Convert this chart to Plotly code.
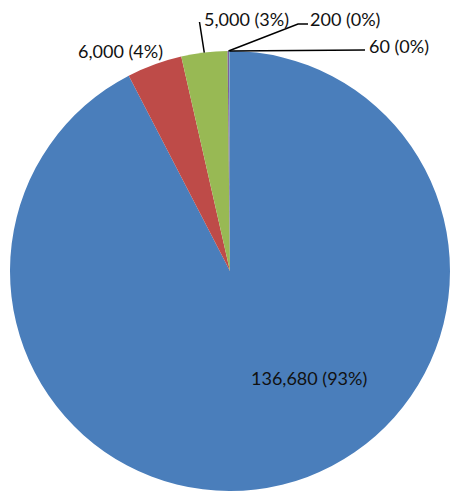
import math
import plotly.graph_objects as go

values = [136680, 6000, 5000, 200, 60]
labels = ["136,680 (93%)", "6,000 (4%)", "5,000 (3%)", "200 (0%)", "60 (0%)"]
colors = ["#4A7EBB", "#BE4B48", "#98B954", "#7D60A0", "#46AAC5"]

OFF = 8  # default page body margin
W, H = 452, 492
# desired pie centre / radius in screenshot pixels
SCX, SCY, SR = 230, 271, 220
ML = SCX - SR - OFF
MT = SCY - SR - OFF
PW = PH = 2 * SR
MR = W - ML - PW
MB = H - MT - PH
CX, CY, R = SCX, SCY, SR


def to_paper(px, py):
    # px, py in screenshot pixels
    fx, fy = px - OFF, py - OFF
    return (fx - ML) / PW, (MT + PH - fy) / PH


total = sum(values)
mids = []
cum = 0
for v in values:
    mids.append((cum + v / 2) / total * 2 * math.pi)
    cum += v


def edge(i):
    a = mids[i]
    return CX + R * math.sin(a), CY - R * math.cos(a)


fig = go.Figure(go.Pie(
    values=values,
    labels=labels,
    sort=False,
    direction="clockwise",
    rotation=0,
    textinfo="none",
    hoverinfo="label",
    marker=dict(colors=colors, line=dict(width=0)),
    showlegend=False,
))

# label text positions (screenshot pixels)
text_pos = [(309, 378), (120, 51), (246, 19), (345, 19), (399, 46)]
annotations = []
for lab, (tx, ty) in zip(labels, text_pos):
    x, y = to_paper(tx, ty)
    annotations.append(dict(x=x, y=y, xref="paper", yref="paper", text=lab,
                            showarrow=False, xanchor="center", yanchor="middle",
                            font=dict(family="Lato", size=18, color="#111111")))

# leader lines
shapes = []
leader_starts = {2: [(199.5, 22)], 3: [(308, 24), (298, 24)], 4: [(365, 50)]}
for i, pts in leader_starts.items():
    ex, ey = edge(i)
    path_pts = pts + [(ex, ey)]
    p = [to_paper(*q) for q in path_pts]
    d = "M " + " L ".join(f"{a:.5f},{b:.5f}" for a, b in p)
    shapes.append(dict(type="path", path=d, xref="paper", yref="paper",
                       line=dict(color="black", width=1.5)))

fig.update_layout(
    width=W, height=H,
    margin=dict(l=ML, r=MR, t=MT, b=MB),
    paper_bgcolor="white", plot_bgcolor="white",
    annotations=annotations, shapes=shapes,
)
fig.write_html("out.html")
